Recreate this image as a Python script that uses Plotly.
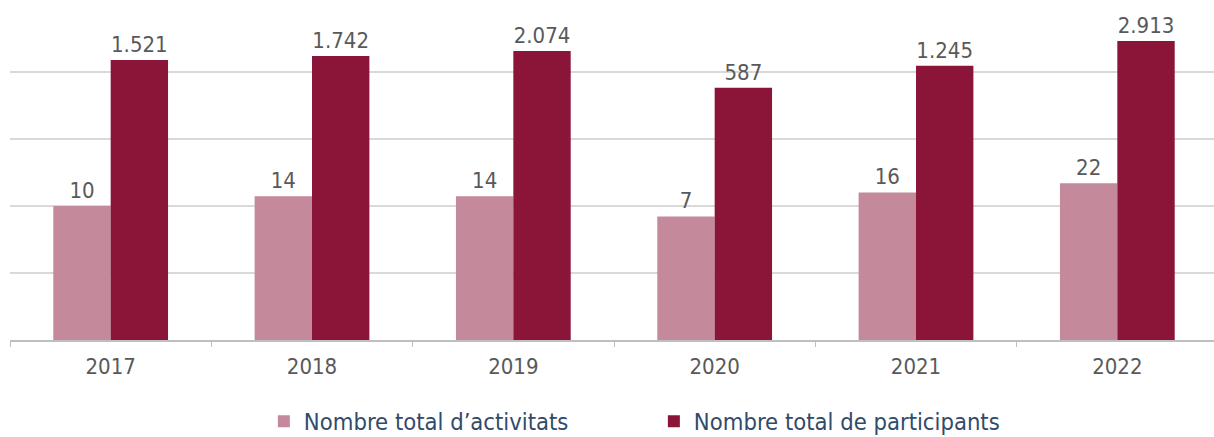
import plotly.graph_objects as go

years = ["2017", "2018", "2019", "2020", "2021", "2022"]
activitats = [10, 14, 14, 7, 16, 22]
participants = [1521, 1742, 2074, 587, 1245, 2913]

LIGHT = "#C4899A"
DARK = "#8A1538"
LABEL = "#595959"
FONT = "DejaVu Sans Condensed, DejaVu Sans"

fig = go.Figure()
fig.add_trace(go.Bar(
    x=years, y=activitats, name="Nombre total d\u2019activitats",
    marker=dict(color=LIGHT, line=dict(width=0)),
    texttemplate="%{y:,}", textposition="outside", cliponaxis=False,
    textfont=dict(color=LABEL, size=22, family=FONT),
))
fig.add_trace(go.Bar(
    x=years, y=participants, name="Nombre total de participants",
    marker=dict(color=DARK, line=dict(width=0)),
    texttemplate="%{y:,}", textposition="outside", cliponaxis=False,
    textfont=dict(color=LABEL, size=22, family=FONT),
))

fig.update_layout(
    width=1218, height=437,
    margin=dict(l=10, r=0, t=5, b=97, autoexpand=False),
    paper_bgcolor="white", plot_bgcolor="white",
    separators=",.",
    barmode="group", bargap=0.43, bargroupgap=0,
    font=dict(family=FONT, color=LABEL, size=22),
    showlegend=True,
    legend=dict(
        orientation="h", x=0.533, xanchor="center", y=-0.243, yanchor="middle",
        font=dict(family=FONT, size=23.6, color="#2F4B6B"),
        traceorder="normal", itemclick=False, entrywidth=345,
        borderwidth=0, bgcolor="rgba(0,0,0,0)",
    ),
)
fig.update_xaxes(
    showline=True, linecolor="#BFBFBF", linewidth=1.5,
    ticks="outside", tickson="boundaries", ticklen=5, tickcolor="#BFBFBF",
    tickfont=dict(size=22, color=LABEL, family=FONT), ticklabelstandoff=6,
    showgrid=False, automargin=False,
)
fig.update_yaxes(
    type="log", range=[-1, 4.003], showticklabels=False,
    showgrid=True, gridcolor="#D9D9D9", gridwidth=1.5,
    dtick=1, zeroline=False, showline=False, automargin=False,
)

fig.write_html(
    "out.html",
    config={"displayModeBar": False},
    post_script="document.body.style.margin='0';document.body.style.overflow='hidden';",
)
